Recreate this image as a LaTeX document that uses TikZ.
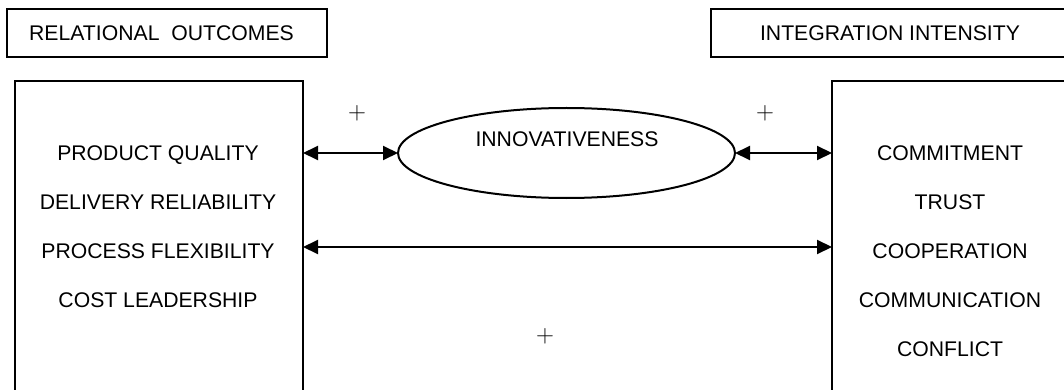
\documentclass[tikz,border=0pt]{standalone}
\usepackage[no-math]{fontspec}
\setmainfont{Liberation Sans}
\usetikzlibrary{arrows.meta,shapes.geometric}
\tikzset{>={Triangle[width=14pt,length=15pt]}}
\tikzset{
  boxed/.style={draw, line width=2pt, inner sep=0pt, outer sep=0pt},
  word/.style={inner sep=0pt, text height=0.716em, text depth=0pt},
  link/.style={<->, line width=2pt},
  sign/.style={inner sep=0pt, font=\fontsize{25}{25}\selectfont},
}

\begin{document}
\begin{tikzpicture}[x=1pt, y=-1pt]

  \fontsize{21.2}{25}\selectfont
  \useasboundingbox (0,0) rectangle (1064,390);
  \clip (0,0) rectangle (1064,390);

  \newcommand\LX{158}
  \newcommand\RX{950}

  %% headings
  \node[boxed, word, minimum width=320pt, minimum height=48pt]
  (outhead) at (167,33) {RELATIONAL\ \ OUTCOMES\hspace*{11pt}};
  \node[boxed, word, minimum width=358pt, minimum height=48pt]
  (inthead) at (890,33) {INTEGRATION INTENSITY};

  %% the two big boxes (cut off at the bottom and right)
  \node[boxed, minimum width=288pt, minimum height=340pt] (lbox) at (159,251) {};
  \node[boxed, minimum width=268pt, minimum height=340pt] (rbox) at (966,251) {};

  \node[boxed, ellipse, minimum width=337pt, minimum height=90pt] (innov) at (566.5,153) {};
  \node[word] (innovtxt) at (567,139) {INNOVATIVENESS};

  %% left column
  \node[word] (quality) at (\LX,153) {PRODUCT QUALITY};
  \node[word] (delivery) at (\LX,202) {DELIVERY RELIABILITY};
  \node[word] (flexibility) at (\LX,251) {PROCESS FLEXIBILITY};
  \node[word] (cost) at (\LX,300) {COST LEADERSHIP};

  %% right column
  \node[word] (commitment) at (\RX,153) {COMMITMENT};
  \node[word] (trust) at (\RX,202) {TRUST};
  \node[word] (cooperation) at (\RX,251) {COOPERATION};
  \node[word] (communication) at (\RX,300) {COMMUNICATION};
  \node[word] (conflict) at (\RX,349) {CONFLICT};

  %% links
  \draw[link] (innov.west -| lbox.east) -- (innov.west);
  \draw[link] (innov.east) -- (innov.east -| rbox.west);
  \coordinate (lower) at (566,247);
  \draw[link] (lower -| lbox.east) -- (lower -| rbox.west);

  \node[sign] (plusleft) at (357,113) {$+$};
  \node[sign] (plusright) at (765,113) {$+$};
  \node[sign] (pluslower) at (545,336) {$+$};

\end{tikzpicture}
\end{document}
